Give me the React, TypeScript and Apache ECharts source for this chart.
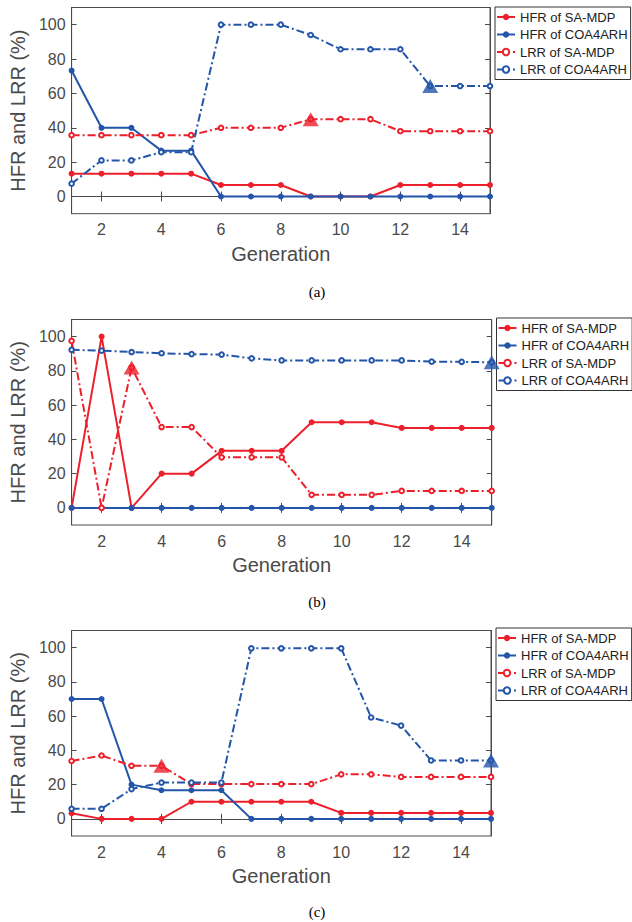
import React, { useEffect, useRef } from "react";
import * as echarts from "echarts";

const generations = [1, 2, 3, 4, 5, 6, 7, 8, 9, 10, 11, 12, 13, 14, 15];
const xTicks = [2, 4, 6, 8, 10, 12, 14];
const yTicks = [0, 20, 40, 60, 80, 100];
const seriesNames = ["HFR of SA-MDP", "HFR of COA4ARH", "LRR of SA-MDP", "LRR of COA4ARH"];
const panelLabels = ["(a)", "(b)", "(c)"];

// Panel (a)
const hfrSaA = [13.3, 13.3, 13.3, 13.3, 13.3, 6.7, 6.7, 6.7, 0, 0, 0, 6.7, 6.7, 6.7, 6.7];
const hfrCoaA = [73.3, 40, 40, 26.7, 26.7, 0, 0, 0, 0, 0, 0, 0, 0, 0, 0];
const lrrSaA = [35.7, 35.7, 35.7, 35.7, 35.7, 40, 40, 40, 45, 45, 45, 38, 38, 38, 38];
const lrrCoaA = [7.5, 21, 21, 25.8, 25.8, 100, 100, 100, 94, 85.7, 85.7, 85.7, 64.3, 64.3, 64.3];
const markSaA = [9, 45];
const markCoaA = [13, 64.3];

// Panel (b)
const hfrSaB = [0, 100, 0, 20, 20, 33.3, 33.3, 33.3, 50, 50, 50, 46.7, 46.7, 46.7, 46.7];
const hfrCoaB = [0, 0, 0, 0, 0, 0, 0, 0, 0, 0, 0, 0, 0, 0, 0];
const lrrSaB = [97.5, 0, 82, 47.2, 47.2, 29.5, 29.5, 29.5, 7.6, 7.6, 7.6, 9.9, 9.9, 9.9, 9.9];
const lrrCoaB = [92.3, 91.8, 91.0, 90.3, 89.8, 89.5, 87.3, 86.1, 86.1, 86.1, 86.1, 86.1, 85.4, 85.3, 85.0];
const markSaB = [3, 82];
const markCoaB = [15, 85];

// Panel (c)
const hfrSaC = [3.3, 0, 0, 0, 10, 10, 10, 10, 10, 3.5, 3.5, 3.5, 3.5, 3.5, 3.5];
const hfrCoaC = [70, 70, 20, 16.7, 16.7, 16.7, 0, 0, 0, 0, 0, 0, 0, 0, 0];
const lrrSaC = [33.8, 37, 31, 31, 20.3, 20.3, 20.3, 20.3, 20.3, 26, 26, 24.5, 24.5, 24.5, 24.5];
const lrrCoaC = [5.9, 5.9, 17.4, 21.2, 21.2, 21.2, 99.6, 99.6, 99.6, 99.6, 59.2, 54.5, 34.1, 34.1, 34.1];
const markSaC = [4, 31];
const markCoaC = [15, 34.1];

const panels = [
  { hfrSa: hfrSaA, hfrCoa: hfrCoaA, lrrSa: lrrSaA, lrrCoa: lrrCoaA, markSa: markSaA, markCoa: markCoaA },
  { hfrSa: hfrSaB, hfrCoa: hfrCoaB, lrrSa: lrrSaB, lrrCoa: lrrCoaB, markSa: markSaB, markCoa: markCoaB },
  { hfrSa: hfrSaC, hfrCoa: hfrCoaC, lrrSa: lrrSaC, lrrCoa: lrrCoaC, markSa: markSaC, markCoa: markCoaC },
];

const RED = "#EC1F2A";
const BLUE = "#2355A9";
const AXIS = "#4a4a4a";
const FONT = '"Liberation Sans", Arial, sans-serif';

const grids = [
  { left: 64, top: 7.5, width: 426, height: 206.2 },
  { left: 66.3, top: 319.5, width: 425.4, height: 205.5 },
  { left: 66.3, top: 630.5, width: 424.7, height: 205.5 },
];
const legendPos = [
  { left: 495, top: 7 },
  { left: 496.5, top: 318 },
  { left: 496, top: 628 },
];
const captionY = [292, 602, 912];

function pairs(vals: number[]) {
  return generations.map((g, i) => [g, vals[i]]);
}

export default function App() {
  const ref = useRef<HTMLDivElement>(null);
  useEffect(() => {
    if (!ref.current) return;
    const chart = echarts.init(ref.current, undefined, { renderer: "svg" });
    const xAxis: any[] = [];
    const yAxis: any[] = [];
    const series: any[] = [];
    const legend: any[] = [];
    const graphic: any[] = [];
    panels.forEach((p, i) => {
      const tickCommon = { show: true, inside: true, length: 5, lineStyle: { color: AXIS, width: 1 } };
      xAxis.push({
        gridIndex: i, type: "value", min: 1, max: 15, position: "bottom",
        axisLine: { show: true, lineStyle: { color: AXIS, width: 1 } },
        axisTick: { ...tickCommon, customValues: xTicks },
        axisLabel: { customValues: xTicks, color: AXIS, fontSize: 16, fontFamily: FONT, margin: 8 },
        splitLine: { show: false },
        name: "Generation", nameLocation: "middle", nameGap: 30,
        nameTextStyle: { fontSize: 20, color: AXIS, fontFamily: FONT },
      });
      xAxis.push({
        gridIndex: i, type: "value", min: 1, max: 15, position: "top",
        axisLine: { show: true, lineStyle: { color: AXIS, width: 1 } },
        axisTick: { ...tickCommon, customValues: xTicks },
        axisLabel: { show: false },
        splitLine: { show: false },
      });
      yAxis.push({
        gridIndex: i, type: "value", min: -10, max: 110, position: "left",
        axisLine: { show: true, lineStyle: { color: AXIS, width: 1 } },
        axisTick: { ...tickCommon, customValues: yTicks },
        axisLabel: { customValues: yTicks, color: AXIS, fontSize: 16, fontFamily: FONT, margin: 6 },
        splitLine: { show: false },
        name: "HFR and LRR (%)", nameLocation: "middle", nameGap: 34,
        nameTextStyle: { fontSize: 20, color: AXIS, fontFamily: FONT },
      });
      yAxis.push({
        gridIndex: i, type: "value", min: -10, max: 110, position: "right",
        axisLine: { show: true, lineStyle: { color: AXIS, width: 1 } },
        axisTick: { ...tickCommon, customValues: yTicks },
        axisLabel: { show: false },
        splitLine: { show: false },
      });
      const xi = i * 2;
      const yi = i * 2;
      const dashDot = [8, 3, 2, 3];
      const defs = [
        { name: seriesNames[0], data: p.hfrSa, color: RED, dash: "solid", symbol: "circle" },
        { name: seriesNames[1], data: p.hfrCoa, color: BLUE, dash: "solid", symbol: "circle" },
        { name: seriesNames[2], data: p.lrrSa, color: RED, dash: dashDot, symbol: "emptyCircle" },
        { name: seriesNames[3], data: p.lrrCoa, color: BLUE, dash: dashDot, symbol: "emptyCircle" },
      ];
      defs.forEach((d, k) => {
        series.push({
          type: "line", name: d.name, xAxisIndex: xi, yAxisIndex: yi,
          data: pairs(d.data), clip: false,
          symbol: d.symbol, symbolSize: d.symbol === "circle" ? 6 : 4.6,
          showAllSymbol: true,
          lineStyle: { color: d.color, width: 2, type: d.dash as any },
          itemStyle: { color: d.color, borderColor: d.color, borderWidth: d.symbol === "circle" ? 0 : 1.7 },
          z: 2 + k,
        });
      });
      series.push({
        type: "scatter", name: "markSa" + i, xAxisIndex: xi, yAxisIndex: yi,
        data: [p.markSa], symbol: "triangle", symbolSize: [16, 14], clip: false,
        itemStyle: { color: RED }, z: 10,
      });
      series.push({
        type: "scatter", name: "markCoa" + i, xAxisIndex: xi, yAxisIndex: yi,
        data: [p.markCoa], symbol: "triangle", symbolSize: [16, 14], clip: false,
        itemStyle: { color: BLUE }, z: 10,
      });
      legend.push({
        orient: "vertical",
        left: legendPos[i].left, top: legendPos[i].top,
        data: seriesNames,
        itemWidth: 18, itemHeight: 8, itemGap: 3.5,
        padding: [3, 3, 3, 1],
        borderColor: "#333", borderWidth: 1, backgroundColor: "#fff",
        textStyle: { fontSize: 13, color: "#222", fontFamily: FONT, lineHeight: 14 },
        selectedMode: false,
      });
      graphic.push({
        type: "text", x: 317, y: captionY[i],
        style: { text: panelLabels[i], font: '15px "Liberation Serif", "Times New Roman", serif', fill: "#000", align: "center", verticalAlign: "middle" },
      });
    });
    chart.setOption({
      animation: false,
      backgroundColor: "#fff",
      textStyle: { fontFamily: FONT },
      grid: grids.map((g) => ({ ...g, show: true, borderColor: AXIS, borderWidth: 1, backgroundColor: "transparent" })),
      xAxis, yAxis, series, legend, graphic,
    });
    return () => chart.dispose();
  }, []);
  return <div ref={ref} style={{ position: "absolute", left: 0, top: 0, width: 632, height: 922 }} />;
}
